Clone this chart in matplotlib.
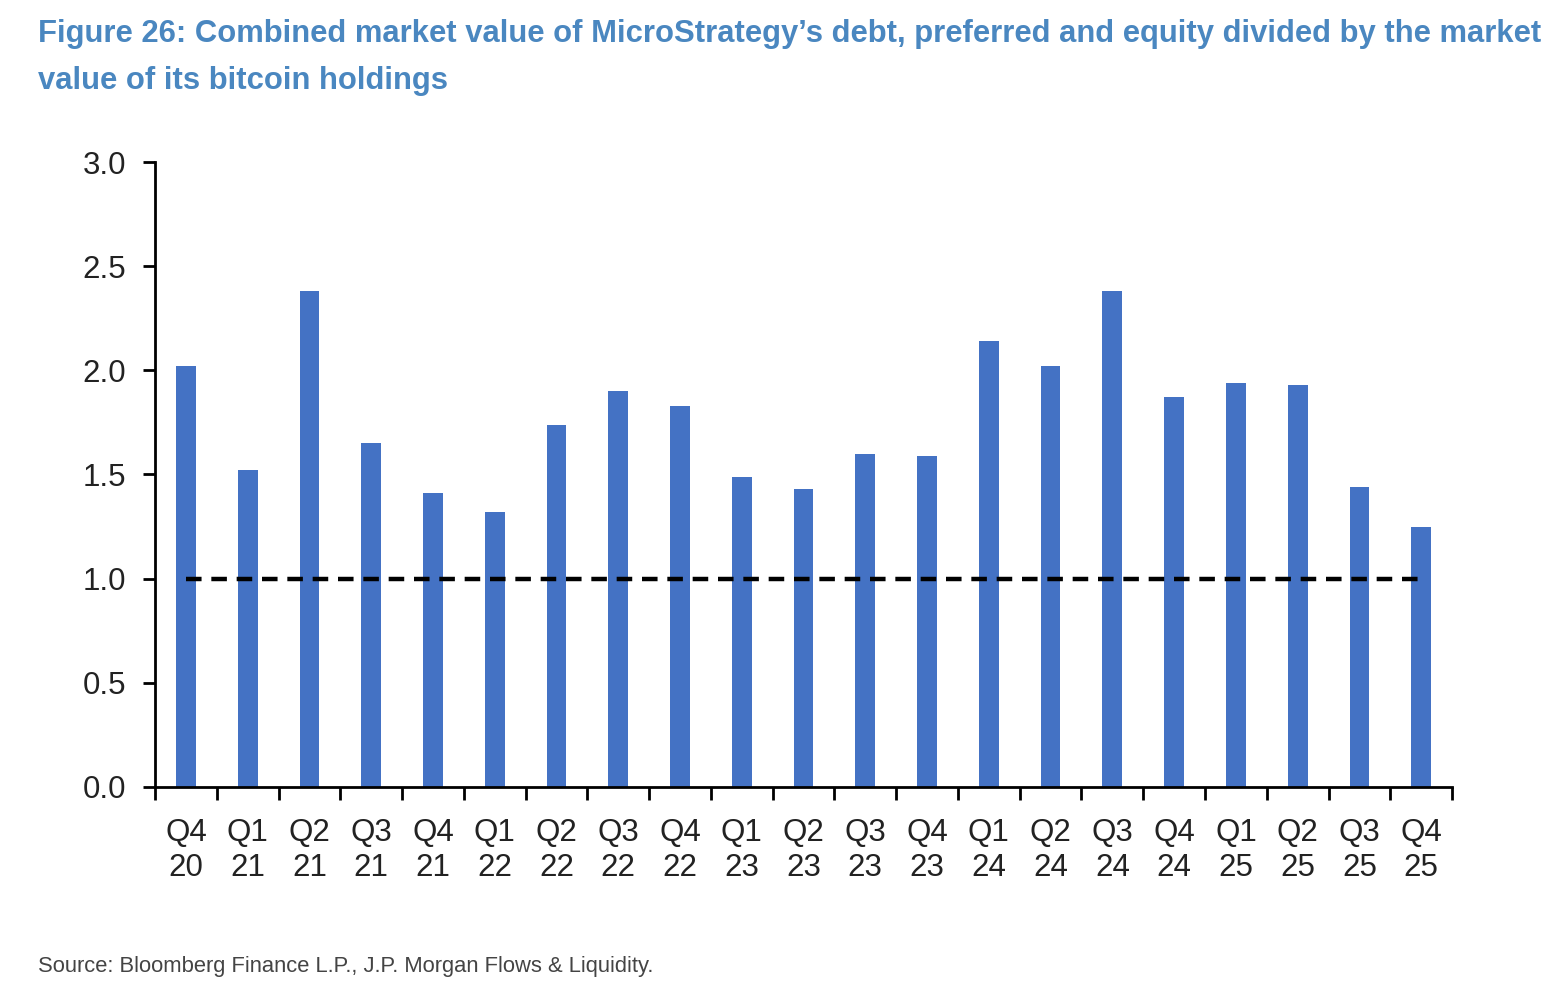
import matplotlib.pyplot as plt
import numpy as np

# Quarter labels and ratio values
quarters = ['Q4\n20', 'Q1\n21', 'Q2\n21', 'Q3\n21', 'Q4\n21', 'Q1\n22', 'Q2\n22',
            'Q3\n22', 'Q4\n22', 'Q1\n23', 'Q2\n23', 'Q3\n23', 'Q4\n23', 'Q1\n24',
            'Q2\n24', 'Q3\n24', 'Q4\n24', 'Q1\n25', 'Q2\n25', 'Q3\n25', 'Q4\n25']
ratio = [2.02, 1.52, 2.38, 1.65, 1.41, 1.32, 1.74, 1.90, 1.83, 1.49, 1.43,
         1.60, 1.59, 2.14, 2.02, 2.38, 1.87, 1.94, 1.93, 1.44, 1.25]
parity = 1.0

plt.rcParams['font.family'] = ['Liberation Sans', 'DejaVu Sans']

fig = plt.figure(figsize=(15.58, 10.02), dpi=100)
ax = fig.add_axes([0.0995, 0.2146, 0.8325, 0.6237])

x = np.arange(len(quarters))
ax.bar(x, ratio, width=0.32, color='#4472C4')
ax.plot([x[0], x[-1]], [parity, parity], color='black', linewidth=3.2,
        linestyle=(0, (3.5, 2.2)))

ax.set_xlim(-0.5, len(quarters) - 0.5)
ax.set_ylim(0, 3.0)
yt = np.arange(0, 3.01, 0.5)
ax.set_yticks(yt)
ax.set_yticklabels([f'{v:.1f}' for v in yt], fontsize=22.5, color='#222222')
ax.set_xticks(x)
ax.set_xticklabels(quarters, fontsize=22.5, color='#222222', linespacing=1.25)
ax.set_xticks(np.arange(-0.5, len(quarters), 1.0), minor=True)
ax.tick_params(axis='x', which='major', length=0, pad=22)
ax.tick_params(axis='x', which='minor', length=9, width=2, direction='out')
ax.tick_params(axis='y', length=9, width=2, direction='out', pad=12)

for s in ['top', 'right']:
    ax.spines[s].set_visible(False)
for s in ['left', 'bottom']:
    ax.spines[s].set_linewidth(2)

fig.text(0.0244, 0.966, 'Figure 26: Combined market value of MicroStrategy\u2019s debt, preferred and equity divided by the market',
         fontsize=22.3, fontweight='bold', color='#4A87C0', va='center')
fig.text(0.0244, 0.919, 'value of its bitcoin holdings',
         fontsize=22.3, fontweight='bold', color='#4A87C0', va='center')
fig.text(0.0244, 0.035, 'Source: Bloomberg Finance L.P., J.P. Morgan Flows & Liquidity.',
         fontsize=15.8, color='#444444', va='center')

fig.savefig('out.png', dpi=100)
